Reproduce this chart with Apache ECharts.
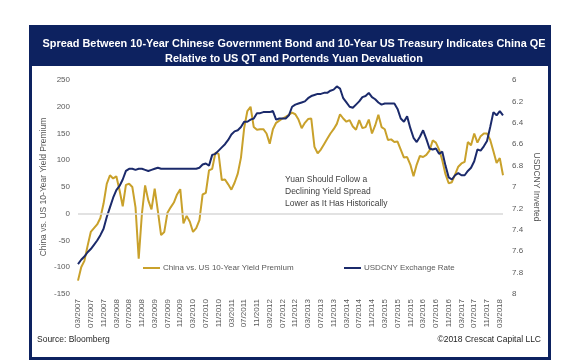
<!DOCTYPE html>
<html><head><meta charset="utf-8">
<script src="https://cdn.jsdelivr.net/npm/echarts@6/dist/echarts.min.js"></script>
<style>html,body{margin:0;padding:0;background:#fff}#c{width:572px;height:362px}</style>
</head><body><div id="c"></div>
<script>
// ---- data ----
const startYear = 2007, startMonth = 3, monthCount = 134;
const categories = [];
for (let i = 0; i < monthCount; i++) {
  const t = (startMonth - 1) + i;
  const y = startYear + Math.floor(t / 12), m = (t % 12) + 1;
  categories.push((m < 10 ? '0' + m : '' + m) + '/' + y);
}
// China vs US 10-year yield premium (bps), monthly
const spread = [
  -125,-100,-88,-60,-34,-27,-20,-8,19,56,
  72,66,70,44,14,54,56,50,12,-84,
  0,53,25,8,47,5,-40,-34,2,12,
  21,36,46,-18,-4,-15,-34,-27,-12,36,
  39,81,84,114,112,63,64,55,45,58,
  75,105,160,192,200,162,157,158,158,150,
  131,158,170,174,178,181,185,189,186,176,
  160,170,177,178,125,113,120,130,140,150,
  158,168,186,178,172,175,163,157,175,160,
  162,176,150,165,185,162,158,138,139,134,
  135,120,105,106,92,70,92,108,106,110,
  118,137,133,120,100,74,57,59,73,88,
  94,97,134,128,150,133,145,150,150,138,
  117,95,104,72
];
// USDCNY exchange rate, monthly (plotted on inverted axis)
const usdcny = [
  7.72,7.68,7.65,7.61,7.58,7.54,7.50,7.45,7.39,7.28,
  7.19,7.10,7.03,6.99,6.93,6.85,6.83,6.83,6.84,6.83,
  6.83,6.84,6.85,6.84,6.83,6.82,6.83,6.83,6.83,6.83,
  6.83,6.83,6.83,6.83,6.83,6.83,6.83,6.83,6.82,6.79,
  6.78,6.80,6.70,6.69,6.66,6.63,6.60,6.56,6.51,6.48,
  6.47,6.44,6.39,6.39,6.37,6.36,6.31,6.31,6.30,6.30,
  6.30,6.29,6.37,6.36,6.36,6.36,6.33,6.25,6.23,6.22,
  6.21,6.20,6.17,6.15,6.14,6.13,6.13,6.12,6.12,6.10,
  6.09,6.06,6.08,6.17,6.21,6.25,6.26,6.23,6.20,6.16,
  6.15,6.12,6.16,6.18,6.21,6.23,6.22,6.22,6.22,6.22,
  6.27,6.36,6.39,6.34,6.45,6.54,6.58,6.53,6.47,6.55,
  6.64,6.65,6.64,6.69,6.67,6.80,6.91,6.93,6.89,6.87,
  6.89,6.89,6.85,6.82,6.76,6.65,6.66,6.62,6.57,6.44,
  6.30,6.33,6.29,6.33
];
const leftAxis = { min: -150, max: 250, interval: 50 };
const rightAxis = { min: 6, max: 8, interval: 0.2 };
const titleText = 'Spread Between 10-Year Chinese Government Bond and 10-Year US Treasury Indicates China QE\nRelative to US QT and Portends Yuan Devaluation';
const seriesNames = ['China vs. US 10-Year Yield Premium', 'USDCNY Exchange Rate'];
const noteText = 'Yuan Should Follow a\nDeclining Yield Spread\nLower as It Has Historically';

// ---- chart ----
const FONT = "'Liberation Sans', Arial, sans-serif";
const GOLD = '#c9a12b', NAVY = '#1b2a6b', FRAME = '#0d2260', GRAY = '#595959';
const chart = echarts.init(document.getElementById('c'), null, { renderer: 'canvas' });
chart.setOption({
  backgroundColor: '#fff',
  animation: false,
  textStyle: { fontFamily: FONT },
  graphic: [
    { type: 'rect', z: 0, shape: { x: 30.5, y: 26.5, width: 519, height: 332 },
      style: { fill: '#fff', stroke: FRAME, lineWidth: 3 } },
    { type: 'rect', z: 1, shape: { x: 29, y: 25, width: 522, height: 41 },
      style: { fill: FRAME } },
    { type: 'text', z: 5, left: 285, top: 174,
      style: { text: noteText, font: "8.5px " + FONT, fill: '#404040', lineHeight: 12 } },
    { type: 'text', z: 5, left: 37, top: 335,
      style: { text: 'Source: Bloomberg', font: "8.5px " + FONT, fill: '#262626' } },
    { type: 'text', z: 5, right: 31, top: 335,
      style: { text: '\u00a92018 Crescat Capital LLC', font: "8.5px " + FONT, fill: '#262626', textAlign: 'right' } }
  ],
  title: {
    text: titleText, left: 289, top: 31, textAlign: 'center',
    textStyle: { color: '#fff', fontSize: 10.9, fontWeight: 'bold', lineHeight: 15, fontFamily: FONT }
  },
  legend: [
    { data: [seriesNames[0]], left: 143, top: 264, padding: 0, icon: 'rect', itemWidth: 17, itemHeight: 2, itemGap: 4,
      textStyle: { fontSize: 8, color: GRAY, fontFamily: FONT, padding: [0, 0, 0, -2] } },
    { data: [seriesNames[1]], left: 344, top: 264, padding: 0, icon: 'rect', itemWidth: 17, itemHeight: 2, itemGap: 4,
      textStyle: { fontSize: 8, color: GRAY, fontFamily: FONT, padding: [0, 0, 0, -2] } }
  ],
  grid: { left: 78, right: 69, top: 80, bottom: 68, containLabel: false },
  xAxis: {
    type: 'category', data: categories, boundaryGap: false,
    axisLine: { show: false }, axisTick: { show: false },
    axisLabel: { interval: 3, rotate: 90, fontSize: 8, color: GRAY, margin: 5, fontFamily: FONT }
  },
  yAxis: [
    { type: 'value', min: leftAxis.min, max: leftAxis.max, interval: leftAxis.interval,
      name: 'China vs. US 10-Year Yield Premium', nameLocation: 'middle', nameGap: 30, nameMoveOverlap: false,
      nameTextStyle: { fontSize: 8.5, color: GRAY, fontFamily: FONT },
      axisLine: { show: false }, axisTick: { show: false }, splitLine: { show: false },
      axisLabel: { fontSize: 8, color: GRAY, margin: 8, fontFamily: FONT } },
    { type: 'value', min: rightAxis.min, max: rightAxis.max, interval: rightAxis.interval, inverse: true,
      name: 'USDCNY Inverted', nameLocation: 'middle', nameGap: 29, nameRotate: -90, nameMoveOverlap: false,
      nameTextStyle: { fontSize: 8.5, color: GRAY, fontFamily: FONT },
      axisLine: { show: false }, axisTick: { show: false }, splitLine: { show: false },
      axisLabel: { fontSize: 8, color: GRAY, margin: 9, fontFamily: FONT } }
  ],
  series: [
    { name: seriesNames[0], type: 'line', yAxisIndex: 0, data: spread, symbol: 'none',
      lineStyle: { color: GOLD, width: 2 }, itemStyle: { color: GOLD }, z: 3,
      markLine: { silent: true, symbol: 'none', label: { show: false },
        lineStyle: { color: '#d9d9d9', width: 1.5, type: 'solid' }, data: [{ yAxis: 0 }] } },
    { name: seriesNames[1], type: 'line', yAxisIndex: 1, data: usdcny, symbol: 'none',
      lineStyle: { color: NAVY, width: 2 }, itemStyle: { color: NAVY }, z: 4 }
  ]
});
</script></body></html>
